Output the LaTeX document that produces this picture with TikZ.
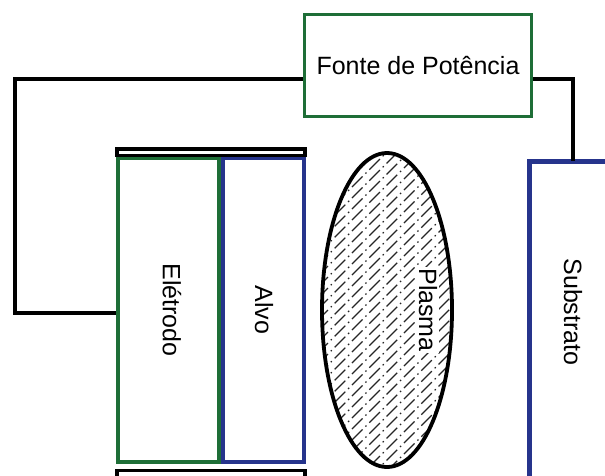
\documentclass[tikz,border=0pt]{standalone}
\usepackage{fontspec}
\setmainfont{Liberation Sans}
\usetikzlibrary{shapes.geometric,calc}
\definecolor{eleGreen}{RGB}{30,110,55}
\definecolor{alvoBlue}{RGB}{38,52,140}
\tikzset{
  lbl/.style={font=\fontsize{25}{29}\selectfont},
  wire/.style={line width=3.8pt,black},
  bar/.style={line width=3.8pt,draw=black,fill=white},
}
\begin{document}
\begin{tikzpicture}[x=1pt,y=-1pt]
\useasboundingbox (0,0) rectangle (605,475);
\begin{scope}
\clip (0,0) rectangle (605,475);
% power source
\node[draw=eleGreen,line width=3.5pt,minimum width=227pt,minimum height=102pt,inner sep=0pt,lbl] (fonte) at (418,65.5) {Fonte de Potência};
% electrode and target
\node[draw=eleGreen,line width=3.5pt,minimum width=101pt,minimum height=304pt,inner sep=0pt] (ele) at (168.5,310) {};
\node[draw=alvoBlue,line width=3.5pt,minimum width=81pt,minimum height=304pt,inner sep=0pt] (alvo) at (263.5,310) {};
\node[lbl,rotate=-90] (eletxt) at (172,310) {Elétrodo};
\node[lbl,rotate=-90] (alvotxt) at (264,310) {Alvo};
% bars
\draw[bar] (117,149) rectangle (305,155.5);
\draw[bar] (117,470.5) rectangle (305,478);
% plasma
\begin{scope}
\clip (387,310) ellipse [x radius=65, y radius=157];
\foreach \c in {440,451,...,860}{
  \draw[line width=1.2pt,black!85,dash pattern=on 15pt off 4pt on 1.5pt off 4pt] (300,\c-300) -- (480,\c-480);
}
\end{scope}
\node[draw,ellipse,line width=3.8pt,minimum width=130pt,minimum height=314pt,inner sep=0pt] (plasma) at (387,310) {};
\node[lbl,rotate=-90,fill=white,inner sep=1.5pt] (plasmatxt) at (428,310) {Plasma};
% substrate
\draw[alvoBlue,line width=5pt] (640,161) -- (529,161) -- (529,500);
\node[lbl,rotate=-90] (subtxt) at (573,312) {Substrato};
\coordinate (subtop) at (573,161);
% wires
\coordinate (lw1) at (15,79);
\coordinate (lw2) at (15,313);
\coordinate (rw1) at (573,79);
\draw[wire] (fonte.west |- lw1) -- (lw1) -- (lw2) -- (ele.west |- lw2);
\draw[wire] (fonte.east |- rw1) -- (rw1) -- (subtop);
\end{scope}
\end{tikzpicture}
\end{document}
